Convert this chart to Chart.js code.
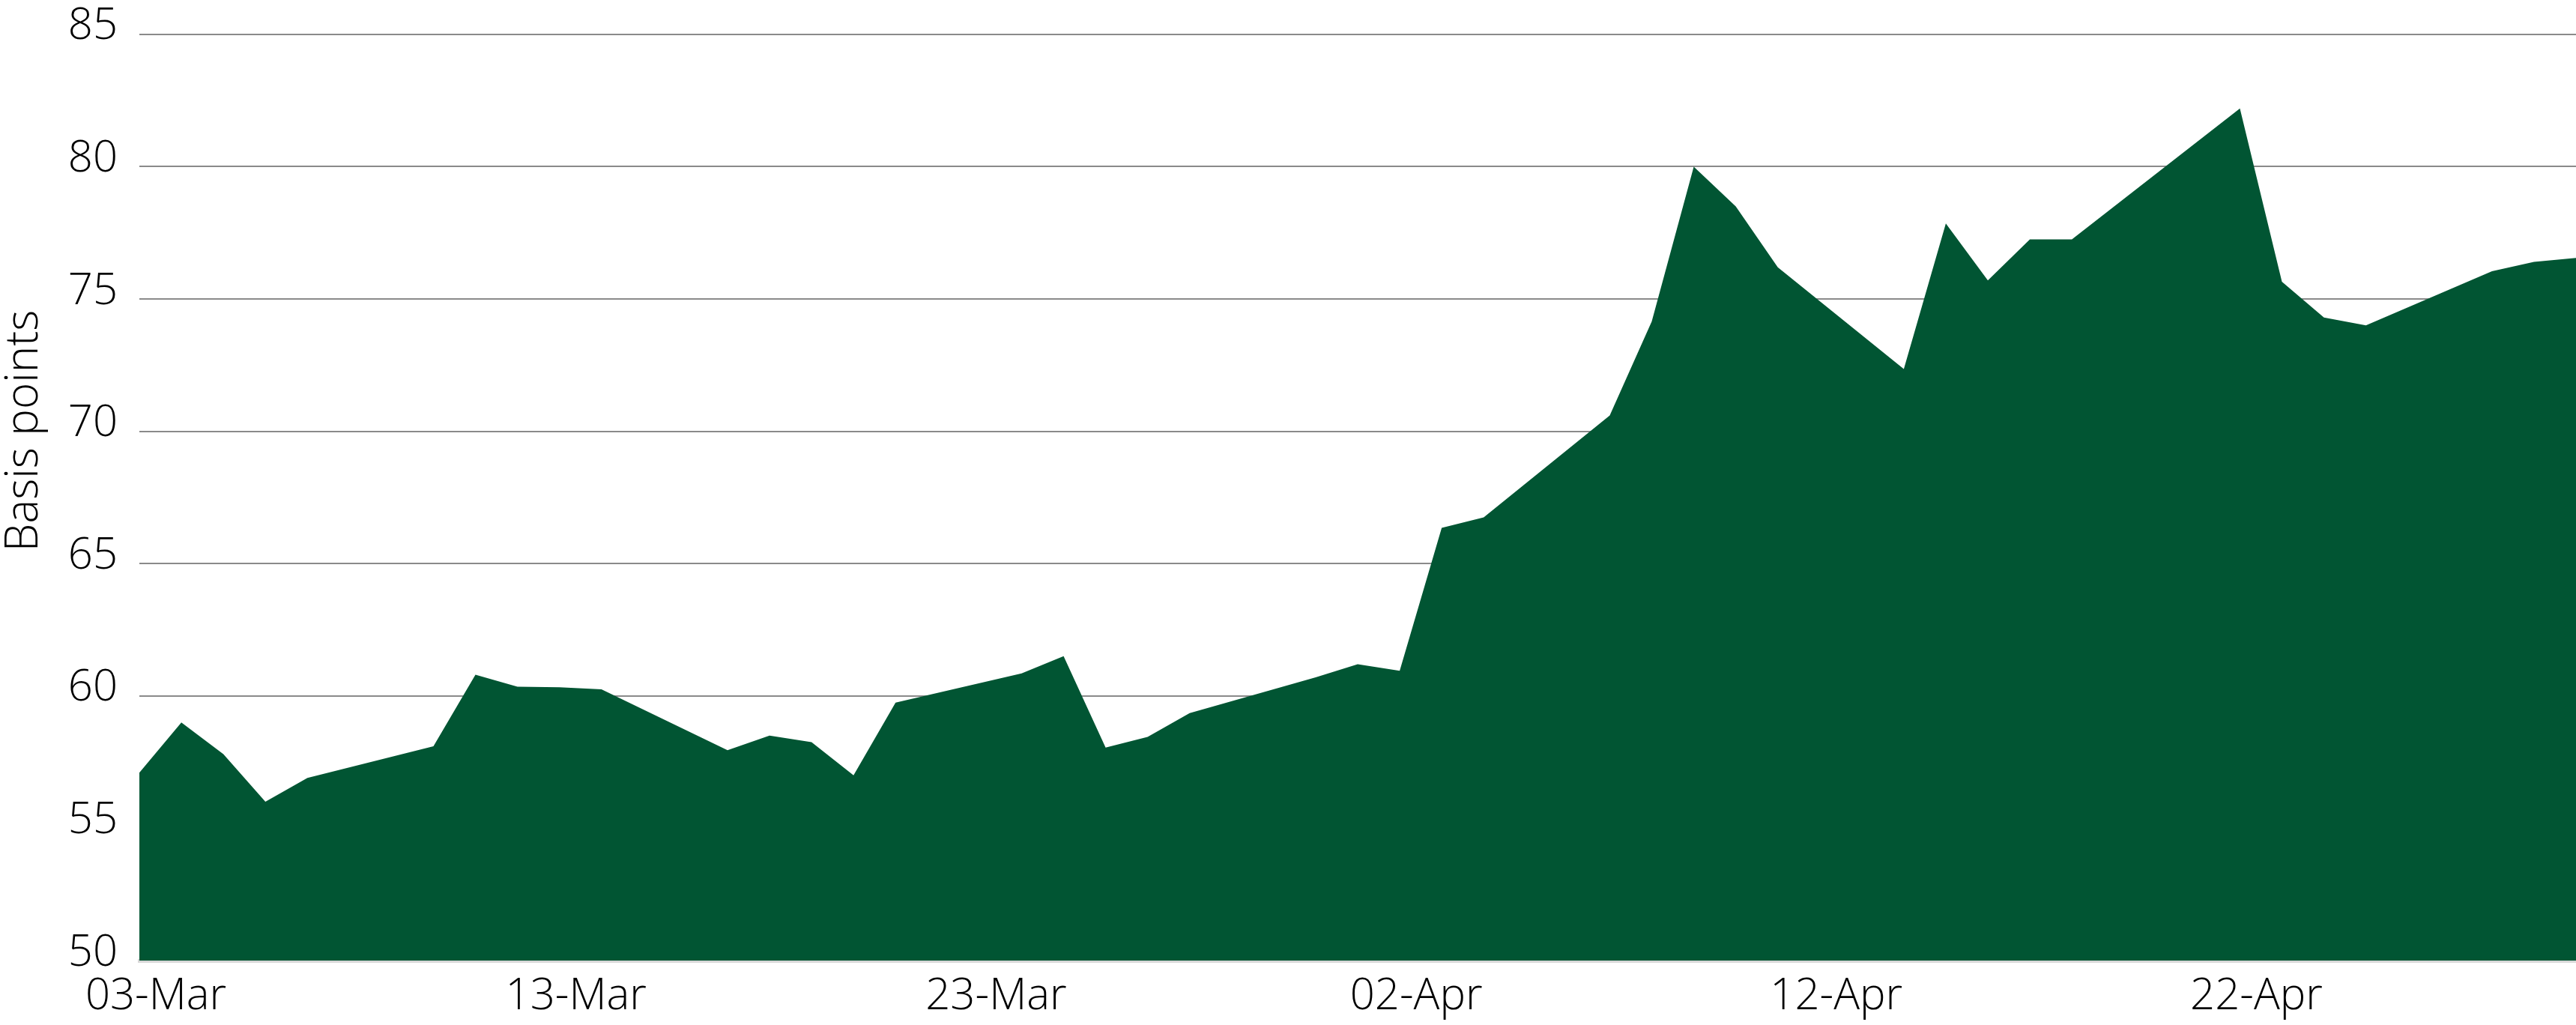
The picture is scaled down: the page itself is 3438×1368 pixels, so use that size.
<!DOCTYPE html>
<html>
<head>
<meta charset="utf-8">
<script src="https://cdn.jsdelivr.net/npm/chart.js@4"></script>
<style>
    html, body { margin: 0; padding: 0; background: #ffffff; overflow: hidden; }
    #wrap { width: 3438px; height: 1368px; }
    #chart { display: block; }
</style>
</head>
<body>
<div id="wrap"><canvas id="chart" width="3438" height="1368"></canvas></div>
<script>
// trading days and spread values (basis points)
const dates = [
    '2025-03-03', '2025-03-04', '2025-03-05', '2025-03-06', '2025-03-07',
    '2025-03-10', '2025-03-11', '2025-03-12', '2025-03-13', '2025-03-14',
    '2025-03-17', '2025-03-18', '2025-03-19', '2025-03-20', '2025-03-21',
    '2025-03-24', '2025-03-25', '2025-03-26', '2025-03-27', '2025-03-28',
    '2025-03-31', '2025-04-01', '2025-04-02', '2025-04-03', '2025-04-04',
    '2025-04-07', '2025-04-08', '2025-04-09', '2025-04-10', '2025-04-11',
    '2025-04-14', '2025-04-15', '2025-04-16', '2025-04-17', '2025-04-18',
    '2025-04-22', '2025-04-23', '2025-04-24', '2025-04-25',
    '2025-04-28', '2025-04-29', '2025-04-30'
];
const spread = [
    57.1, 59.0, 57.8, 56.0, 56.9,
    58.1, 60.8, 60.35, 60.33, 60.25,
    57.95, 58.5, 58.25, 57.0, 59.75,
    60.85, 61.5, 58.05, 58.45, 59.35,
    60.7, 61.2, 60.95, 66.35, 66.75,
    70.6, 74.15, 80.0, 78.5, 76.2,
    72.35, 77.85, 75.7, 77.25, 77.25,
    82.2, 75.65, 74.3, 74.0,
    76.05, 76.4, 76.55
];
const tickLabels = ['03-Mar', '13-Mar', '23-Mar', '02-Apr', '12-Apr', '22-Apr'];
const yTitle = 'Basis points';

// day offset from the first date
const dayMs = 86400000;
const start = Date.parse(dates[0]);
const points = dates.map((d, i) => ({ x: (Date.parse(d) - start) / dayMs, y: spread[i] }));
const lastDay = points[points.length - 1].x;

const fontFamily = '"Open Sans", "DejaVu Sans", sans-serif';

// y axis title drawn a bit above the middle, like the original
const yTitlePlugin = {
    id: 'yTitle',
    afterDraw(chart) {
        const ctx = chart.ctx;
        ctx.save();
        ctx.translate(50, 575);
        ctx.rotate(-Math.PI / 2);
        ctx.font = '300 60px ' + fontFamily;
        ctx.fillStyle = '#000000';
        ctx.textAlign = 'center';
        ctx.textBaseline = 'alphabetic';
        ctx.fillText(yTitle, 0, 0);
        ctx.restore();
    }
};

const ctx = document.getElementById('chart').getContext('2d');
new Chart(ctx, {
    type: 'line',
    data: {
        datasets: [{
            label: 'Spread',
            data: points,
            backgroundColor: '#015533',
            borderColor: '#015533',
            borderWidth: 0,
            pointRadius: 0,
            fill: 'start',
            tension: 0
        }]
    },
    options: {
        responsive: false,
        animation: false,
        layout: { padding: 0 },
        plugins: {
            legend: { display: false },
            tooltip: { enabled: false }
        },
        scales: {
            x: {
                type: 'linear',
                min: 0,
                max: lastDay,
                grid: { display: false, drawTicks: false },
                border: { display: true, color: '#d9d9d9', width: 5 },
                ticks: {
                    stepSize: 10,
                    padding: 14,
                    labelOffset: 22,
                    maxRotation: 0,
                    color: '#000000',
                    font: { family: fontFamily, size: 58, weight: 300 },
                    callback: v => tickLabels[v / 10] || ''
                },
                // keep only the 10-day ticks (drop the one at the axis end)
                afterBuildTicks: s => { s.ticks = s.ticks.filter(t => t.value % 10 === 0); },
                afterFit: s => { s.height = 86; }
            },
            y: {
                min: 50,
                max: 85,
                grid: { color: '#8a8a8a', lineWidth: 2, drawTicks: false },
                border: { display: false },
                ticks: {
                    stepSize: 5,
                    padding: 29,
                    labelOffset: -10,
                    color: '#000000',
                    font: { family: fontFamily, size: 58, weight: 300, lineHeight: 0.58 }
                },
                afterFit: s => { s.width = 186; }
            }
        }
    },
    plugins: [yTitlePlugin]
});
</script>
</body>
</html>
